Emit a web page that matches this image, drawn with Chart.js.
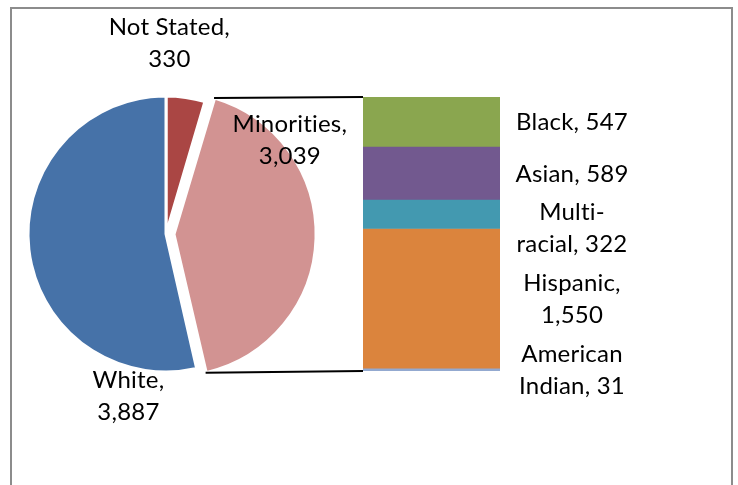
<!DOCTYPE html>
<html>
<head>
<meta charset="utf-8">
<script src="https://cdn.jsdelivr.net/npm/chart.js@4/dist/chart.umd.min.js"></script>
<style>
  html, body { margin: 0; padding: 0; background: #fff; overflow: hidden; }
  #wrap { position: relative; width: 738px; height: 485px; }
  #wrap canvas { position: absolute; left: 0; top: 0; }
  /* chart frame: open at the bottom, like the cropped original */
  #frame { position: absolute; left: 10px; top: 7px; width: 723px; height: 500px;
           border: 2px solid #8c8c8c; border-bottom: none; box-sizing: border-box; }
</style>
</head>
<body>
<div id="wrap">
  <div id="frame"></div>
  <canvas id="bar" width="738" height="485"></canvas>
  <canvas id="pie" width="738" height="485"></canvas>
</div>
<script>
// pie: clockwise from 12 o'clock
const pieLabels = ["Not Stated", "Minorities", "White"];
const pieValues = [330, 3039, 3887];
const pieColors = ["#aa4644", "#d29392", "#4672a8"];

// the "Minorities" slice broken out, top to bottom
const barLabels = ["Black", "Asian", "Multi-racial", "Hispanic", "American Indian"];
const barValues = [547, 589, 322, 1550, 31];
const barColors = ["#8aa64f", "#72598f", "#4399b0", "#db843d", "#93a9d0"];

// where each pie label sits: [angle from 12 o'clock in deg, distance in radii]
const pieLabelSpots = [[1, 1.38], [51, 1.08], [193, 1.21]];

const FONT = "24px Lato";
const LINE_H = 32;
const fmt = (v) => v.toLocaleString("en-US");

function setText(ctx) {
  ctx.font = FONT;
  ctx.letterSpacing = "0.2px"; // also keeps Lato from fusing "ti"
  ctx.fillStyle = "#000";
  ctx.textAlign = "center";
  ctx.textBaseline = "middle";
}

function wrap(ctx, text, maxW) {
  const toks = text.match(/[^\s-]+-|\S+/g);
  const lines = [];
  let cur = "";
  for (const t of toks) {
    const sep = cur === "" || cur.endsWith("-") ? "" : " ";
    if (cur && ctx.measureText(cur + sep + t).width > maxW) { lines.push(cur); cur = t; }
    else cur += sep + t;
  }
  lines.push(cur);
  return lines;
}

// where an arc actually ends up once its explode offset is applied
function arcGeom(arc) {
  const off = (arc.options.offset || 0) / 4;
  const mid = (arc.startAngle + arc.endAngle) / 2;
  const fix = 1 - Math.sin(Math.min(Math.PI, arc.circumference));
  return { cx: arc.x + Math.cos(mid) * off, cy: arc.y + Math.sin(mid) * off, r: arc.outerRadius + off * fix };
}

const barLabelsPlugin = {
  id: "barLabels",
  afterDatasetsDraw(chart) {
    const ctx = chart.ctx;
    ctx.save();
    setText(ctx);
    let prevBottom = -Infinity;
    barValues.forEach((v, i) => {
      const bar = chart.getDatasetMeta(i).data[0];
      const lines = wrap(ctx, `${barLabels[i]}, ${fmt(v)}`, 120);
      const h = lines.length * LINE_H;
      let top = Math.max((bar.y + bar.base) / 2 - h / 2 + 1, prevBottom + 6);
      prevBottom = top + h;
      const x = bar.x + bar.width / 2 + 72;
      lines.forEach((ln, k) => ctx.fillText(ln, x, top + LINE_H * (k + 0.5)));
    });
    ctx.restore();
  },
};

const barChart = new Chart(document.getElementById("bar"), {
  type: "bar",
  data: {
    labels: [""],
    datasets: barValues.map((v, i) => ({
      label: barLabels[i], data: [v], backgroundColor: barColors[i], borderWidth: 0,
    })),
  },
  options: {
    responsive: false,
    animation: false,
    events: [],
    devicePixelRatio: 1,
    categoryPercentage: 1,
    barPercentage: 1,
    layout: { padding: { left: 363, right: 238, top: 97, bottom: 114 } },
    plugins: { legend: { display: false }, tooltip: { enabled: false } },
    scales: {
      x: { stacked: true, display: false },
      y: { stacked: true, display: false, reverse: true, min: 0, max: barValues.reduce((a, b) => a + b, 0) },
    },
  },
  plugins: [barLabelsPlugin],
});

const piePlugin = {
  id: "pieExtras",
  afterDatasetsDraw(chart) {
    const ctx = chart.ctx;
    const arcs = chart.getDatasetMeta(0).data;

    // connector lines from the exploded slice to the top and bottom of the bar
    const mino = arcs[1];
    const g = arcGeom(mino);
    const top = barChart.getDatasetMeta(0).data[0];
    const bot = barChart.getDatasetMeta(barValues.length - 1).data[0];
    const barLeft = top.x - top.width / 2;
    ctx.save();
    ctx.strokeStyle = "#000";
    ctx.lineWidth = 2;
    ctx.beginPath();
    ctx.moveTo(g.cx + Math.cos(mino.startAngle) * g.r, g.cy + Math.sin(mino.startAngle) * g.r);
    ctx.lineTo(barLeft, Math.min(top.base, top.y));
    ctx.moveTo(g.cx + Math.cos(mino.endAngle) * g.r, g.cy + Math.sin(mino.endAngle) * g.r);
    ctx.lineTo(barLeft, Math.max(bot.base, bot.y));
    ctx.stroke();

    // slice labels
    setText(ctx);
    arcs.forEach((arc, i) => {
      const a = arcGeom(arc);
      const [deg, dist] = pieLabelSpots[i];
      const t = (deg - 90) * Math.PI / 180;
      const x = a.cx + Math.cos(t) * dist * arc.outerRadius;
      const y = a.cy + Math.sin(t) * dist * arc.outerRadius;
      const lines = [pieLabels[i] + ",", fmt(pieValues[i])];
      lines.forEach((ln, k) => ctx.fillText(ln, x, y + LINE_H * (k - (lines.length - 1) / 2)));
    });
    ctx.restore();
  },
};

new Chart(document.getElementById("pie"), {
  type: "pie",
  data: {
    labels: pieLabels,
    datasets: [{
      data: pieValues,
      backgroundColor: pieColors,
      borderColor: "#fff",
      borderWidth: 3,
      offset: [0, 32, 0],
    }],
  },
  options: {
    responsive: false,
    animation: false,
    events: [],
    devicePixelRatio: 1,
    radius: 138,
    layout: { padding: { left: 0, right: 406, top: 0, bottom: 17 } },
    plugins: { legend: { display: false }, tooltip: { enabled: false } },
  },
  plugins: [piePlugin],
});
</script>
</body>
</html>
